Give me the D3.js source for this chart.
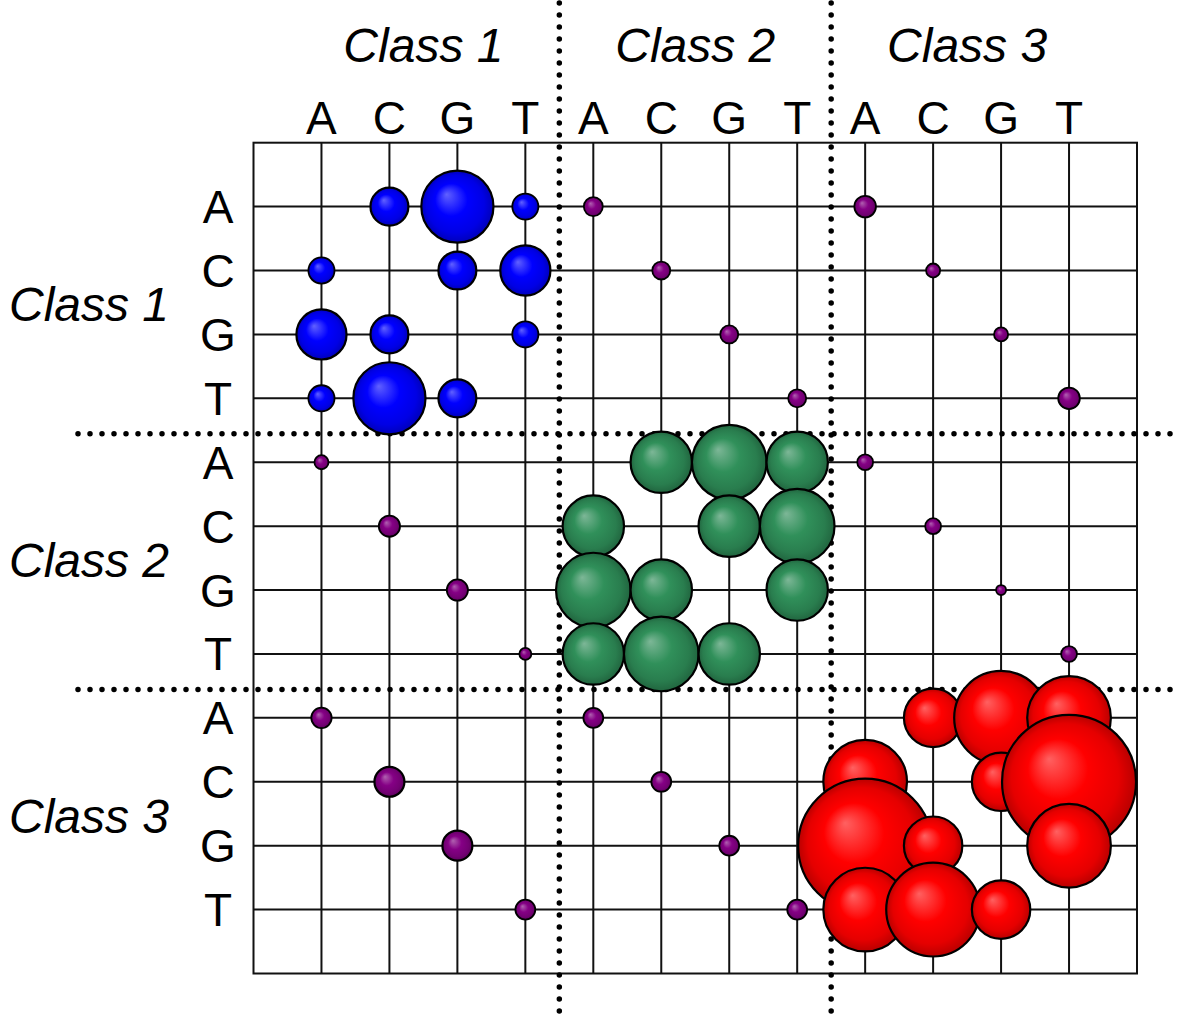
<!DOCTYPE html>
<html>
<head>
<meta charset="utf-8">
<script src="https://cdn.jsdelivr.net/npm/d3@7"></script>
<style>
  html, body { margin: 0; padding: 0; background: #fff; }
  svg { display: block; }
  text { font-family: "Liberation Sans", Arial, Helvetica, sans-serif; fill: #000; }
</style>
</head>
<body>
<svg id="chart" width="1178" height="1019"></svg>
<script>
// Nucleotides and classes along both axes
const bases = ["A", "C", "G", "T"];
const classNames = ["Class 1", "Class 2", "Class 3"];

// Fill colour of the within-class blocks, and of the cross-class cells
const classFill = ["#0000ff", "#2e8b57", "#ff0000"];
const crossFill = "#800080";

// Pair weights (rows: A,C,G,T of the row class; columns: A,C,G,T of Class 1, 2, 3)
const class1Rows = [
  [0,     0.08,  0.29,  0.038,   0.020, 0,     0,     0,       0.026, 0,     0,     0    ],
  [0.038, 0,     0.08,  0.14,    0,     0.018, 0,     0,       0,     0.011, 0,     0    ],
  [0.14,  0.08,  0,     0.038,   0,     0,     0.018, 0,       0,     0,     0.011, 0    ],
  [0.038, 0.29,  0.08,  0,       0,     0,     0,     0.018,   0,     0,     0,     0.026]
];
const class2Rows = [
  [0.011, 0,     0,     0,       0,     0.21,  0.31,  0.21,    0.014, 0,     0,     0    ],
  [0,     0.025, 0,     0,       0.21,  0,     0.21,  0.31,    0,     0.014, 0,     0    ],
  [0,     0,     0.025, 0,       0.31,  0.21,  0,     0.21,    0,     0,     0.0056, 0   ],
  [0,     0,     0,     0.008,   0.21,  0.31,  0.21,  0,       0,     0,     0,     0.014]
];
const class3Rows = [
  [0.023, 0,     0,     0,       0.022, 0,     0,     0,       0,     0.19,  0.49,  0.39 ],
  [0,     0.05,  0,     0,       0,     0.022, 0,     0,       0.39,  0,     0.19,  1.0  ],
  [0,     0,     0.05,  0,       0,     0,     0.022, 0,       1.0,   0.19,  0,     0.39 ],
  [0,     0,     0,     0.022,   0,     0,     0,     0.022,   0.39,  0.49,  0.19,  0    ]
];

const rowBlocks = [class1Rows, class2Rows, class3Rows];

// ---- layout ----
const svg = d3.select("#chart");
svg.append("rect").attr("width", 1178).attr("height", 1019).attr("fill", "#fff");

const keys = classNames.flatMap((c, ci) => bases.map(b => `${ci}-${b}`));
const box = { left: 253.5, right: 1137, top: 142.7, bottom: 973.5 };

const x = d3.scalePoint().domain(keys).range([box.left, box.right]).padding(1);
const y = d3.scalePoint().domain(keys).range([box.top, box.bottom]).padding(1);
const r = d3.scaleSqrt().domain([0, 1]).range([0, 67]);

// ---- sphere-like radial gradients ----
const defs = svg.append("defs");
const palette = classFill.map((c, i) => ({ id: "g" + i, color: c })).concat([{ id: "gx", color: crossFill }]);
palette.forEach(p => {
  const g = defs.append("radialGradient")
    .attr("id", p.id)
    .attr("cx", "50%").attr("cy", "50%").attr("r", "50%")
    .attr("fx", "35%").attr("fy", "33%");
  const base = d3.color(p.color);
  g.append("stop").attr("offset", "0%").attr("stop-color", d3.interpolateRgb(p.color, "#fff")(0.38));
  g.append("stop").attr("offset", "45%").attr("stop-color", base.brighter(0.1).formatHex());
  g.append("stop").attr("offset", "80%").attr("stop-color", base.darker(0.3).formatHex());
  g.append("stop").attr("offset", "100%").attr("stop-color", base.darker(0.9).formatHex());
});

// ---- grid ----
const grid = svg.append("g").attr("stroke", "#111").attr("stroke-width", 2).attr("fill", "none");
grid.selectAll("line.v").data(keys).join("line")
  .attr("class", "v")
  .attr("x1", d => x(d)).attr("x2", d => x(d))
  .attr("y1", box.top).attr("y2", box.bottom);
grid.selectAll("line.h").data(keys).join("line")
  .attr("class", "h")
  .attr("y1", d => y(d)).attr("y2", d => y(d))
  .attr("x1", box.left).attr("x2", box.right);
grid.append("rect")
  .attr("x", box.left).attr("y", box.top)
  .attr("width", box.right - box.left).attr("height", box.bottom - box.top);

// ---- dotted class separators ----
const sep = svg.append("g")
  .attr("stroke", "#000").attr("stroke-width", 5.5)
  .attr("stroke-linecap", "round").attr("stroke-dasharray", "0 12");
[1, 2].forEach(k => {
  const xm = (x(`${k - 1}-T`) + x(`${k}-A`)) / 2;
  const ym = (y(`${k - 1}-T`) + y(`${k}-A`)) / 2 + 3.5;
  sep.append("line").attr("x1", xm).attr("x2", xm).attr("y1", 3).attr("y2", 1016);
  sep.append("line").attr("y1", ym).attr("y2", ym).attr("x1", 78).attr("x2", 1176);
});

// ---- bubbles ----
const cells = [];
rowBlocks.forEach((block, rc) => {
  block.forEach((vals, bi) => {
    vals.forEach((v, ci) => {
      if (v > 0) {
        const cc = Math.floor(ci / 4);
        cells.push({
          row: `${rc}-${bases[bi]}`,
          col: keys[ci],
          value: v,
          fill: rc === cc ? `url(#g${rc})` : "url(#gx)"
        });
      }
    });
  });
});

svg.append("g").selectAll("circle").data(cells).join("circle")
  .attr("cx", d => x(d.col))
  .attr("cy", d => y(d.row))
  .attr("r", d => r(d.value))
  .attr("fill", d => d.fill)
  .attr("stroke", "#000")
  .attr("stroke-width", d => r(d.value) < 14 ? 1.8 : 2.2);

// ---- labels ----
const labels = svg.append("g").attr("font-size", 46);

labels.selectAll("text.col").data(keys).join("text")
  .attr("class", "col")
  .attr("x", d => x(d)).attr("y", 134)
  .attr("text-anchor", "middle")
  .text(d => d.split("-")[1]);

labels.selectAll("text.row").data(keys).join("text")
  .attr("class", "row")
  .attr("x", 218).attr("y", d => y(d) + 16.5)
  .attr("text-anchor", "middle")
  .text(d => d.split("-")[1]);

labels.selectAll("text.ctop").data(classNames).join("text")
  .attr("class", "ctop")
  .attr("x", (d, i) => (x(`${i}-A`) + x(`${i}-T`)) / 2)
  .attr("y", 62)
  .attr("text-anchor", "middle")
  .attr("font-style", "italic")
  .attr("font-size", 48)
  .text(d => d);

labels.selectAll("text.cleft").data(classNames).join("text")
  .attr("class", "cleft")
  .attr("x", 89)
  .attr("y", (d, i) => (y(`${i}-A`) + y(`${i}-T`)) / 2 + 19)
  .attr("text-anchor", "middle")
  .attr("font-style", "italic")
  .attr("font-size", 48)
  .text(d => d);
</script>
</body>
</html>
